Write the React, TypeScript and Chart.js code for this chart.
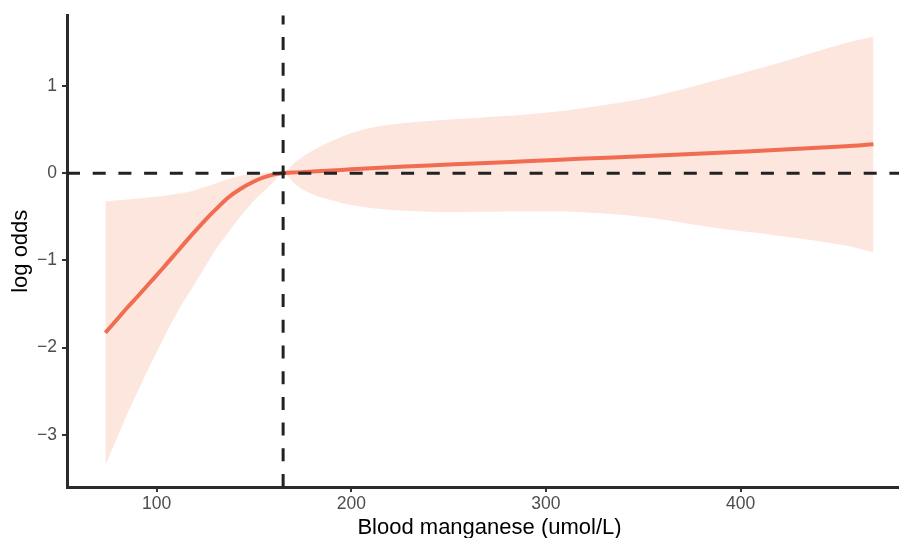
import React, { useEffect, useRef } from "react";
import { Chart, registerables } from "chart.js";

Chart.register(...registerables);

// Blood manganese values where the curve and band are read
const manganese = [73.7, 80, 85, 90, 97, 104, 111, 119, 125, 130, 137, 143, 150, 155, 160, 165, 172, 180, 190, 200, 215, 240, 266, 292, 317, 352, 386, 420, 454, 468.2];
// fitted log odds
const logOdds = [-1.83, -1.67, -1.54, -1.42, -1.245, -1.07, -0.889, -0.685, -0.537, -0.423, -0.275, -0.18, -0.095, -0.048, -0.016, 0, 0.01, 0.02, 0.032, 0.045, 0.062, 0.09, 0.115, 0.14, 0.165, 0.197, 0.232, 0.27, 0.31, 0.333];
// confidence band
const upperCI = [-0.324, -0.31, -0.3, -0.29, -0.275, -0.258, -0.235, -0.2, -0.155, -0.12, -0.065, -0.03, -0.005, 0.006, 0.008, 0, 0.14, 0.257, 0.37, 0.46, 0.543, 0.6, 0.638, 0.677, 0.74, 0.867, 1.058, 1.268, 1.495, 1.566];
const lowerCI = [-3.35, -3.02, -2.76, -2.52, -2.19, -1.875, -1.58, -1.29, -1.07, -0.889, -0.675, -0.5, -0.316, -0.21, -0.1, 0, -0.14, -0.24, -0.31, -0.365, -0.411, -0.442, -0.442, -0.435, -0.445, -0.507, -0.622, -0.717, -0.83, -0.908];

const xTicks = [100, 200, 300, 400];
const yTicks = [-3, -2, -1, 0, 1];
const refX = 165;
const refY = 0;

const xTitle = "Blood manganese (umol/L)";
const yTitle = "log odds";

const fmtY = (v: number) => (v < 0 ? "\u2212" + Math.abs(v) : String(v));

export default function App() {
  const ref = useRef<HTMLCanvasElement | null>(null);

  useEffect(() => {
    if (!ref.current) return;
    const pts = (ys: number[]) => manganese.map((x, i) => ({ x, y: ys[i] }));

    const refLines = {
      id: "refLines",
      afterDatasetsDraw(chart: any) {
        const { ctx, chartArea, scales } = chart;
        const px = scales.x.getPixelForValue(refX);
        const py = scales.y.getPixelForValue(refY);
        ctx.save();
        ctx.strokeStyle = "#222222";
        ctx.lineWidth = 3;
        ctx.setLineDash([13, 12.7]);
        ctx.beginPath();
        ctx.moveTo(chartArea.left, py);
        ctx.lineTo(chartArea.right, py);
        ctx.stroke();
        ctx.beginPath();
        ctx.moveTo(px, chartArea.bottom);
        ctx.lineTo(px, chartArea.top);
        ctx.stroke();
        ctx.restore();
      },
    };

    const font = "'Liberation Sans', Arial, Helvetica, sans-serif";

    const chart = new Chart(ref.current, {
      type: "line",
      data: {
        datasets: [
          {
            label: "lower",
            data: pts(lowerCI),
            borderWidth: 0,
            pointRadius: 0,
            fill: false,
            tension: 0.35,
            order: 2,
          },
          {
            label: "upper",
            data: pts(upperCI),
            borderWidth: 0,
            pointRadius: 0,
            fill: "-1",
            backgroundColor: "#FCE6DD",
            tension: 0.35,
            order: 2,
          },
          {
            label: "fit",
            data: pts(logOdds),
            borderColor: "#F26C52",
            borderWidth: 4,
            pointRadius: 0,
            fill: false,
            tension: 0.35,
            order: 0,
          },
        ],
      },
      options: {
        animation: false,
        responsive: false,
        devicePixelRatio: 1,
        layout: { padding: { top: 14, right: 2, bottom: 0, left: 0 } },
        plugins: {
          legend: { display: false },
          tooltip: { enabled: false },
          filler: { drawTime: "beforeDatasetsDraw" },
        },
        scales: {
          x: {
            type: "linear",
            min: 54,
            max: 488,
            afterBuildTicks: (s: any) => {
              s.ticks = xTicks.map((v) => ({ value: v }));
            },
            afterFit: (s: any) => {
              s.height = 61;
            },
            border: { display: true, color: "#2B2B2B", width: 3 },
            grid: { drawOnChartArea: false, drawTicks: true, tickLength: 5, color: "#333333", lineWidth: 2 },
            ticks: {
              color: "#4D4D4D",
              font: { family: font, size: 17.5 },
              padding: 2,
              maxRotation: 0,
              callback: (v: any) => String(v),
            },
            title: {
              display: true,
              text: xTitle,
              color: "#000000",
              font: { family: font, size: 22 },
              padding: { top: 0, bottom: 7 },
            },
          },
          y: {
            type: "linear",
            min: -3.6,
            max: 1.81,
            afterBuildTicks: (s: any) => {
              s.ticks = yTicks.map((v) => ({ value: v }));
            },
            afterFit: (s: any) => {
              s.width = 67;
            },
            border: { display: true, color: "#2B2B2B", width: 3 },
            grid: { drawOnChartArea: false, drawTicks: true, tickLength: 5, color: "#333333", lineWidth: 2 },
            ticks: {
              color: "#4D4D4D",
              font: { family: font, size: 17.5 },
              padding: 5,
              callback: (v: any) => fmtY(Number(v)),
            },
            title: {
              display: true,
              text: yTitle,
              color: "#000000",
              font: { family: font, size: 22 },
              padding: { top: 8, bottom: 0 },
            },
          },
        },
      },
      plugins: [refLines],
    } as any);

    return () => chart.destroy();
  }, []);

  return (
    <div
      style={{
        position: "fixed",
        left: 0,
        top: 0,
        width: 899,
        height: 538,
        overflow: "hidden",
        background: "#ffffff",
      }}
    >
      <canvas ref={ref} width={914} height={548} style={{ display: "block" }} />
    </div>
  );
}
